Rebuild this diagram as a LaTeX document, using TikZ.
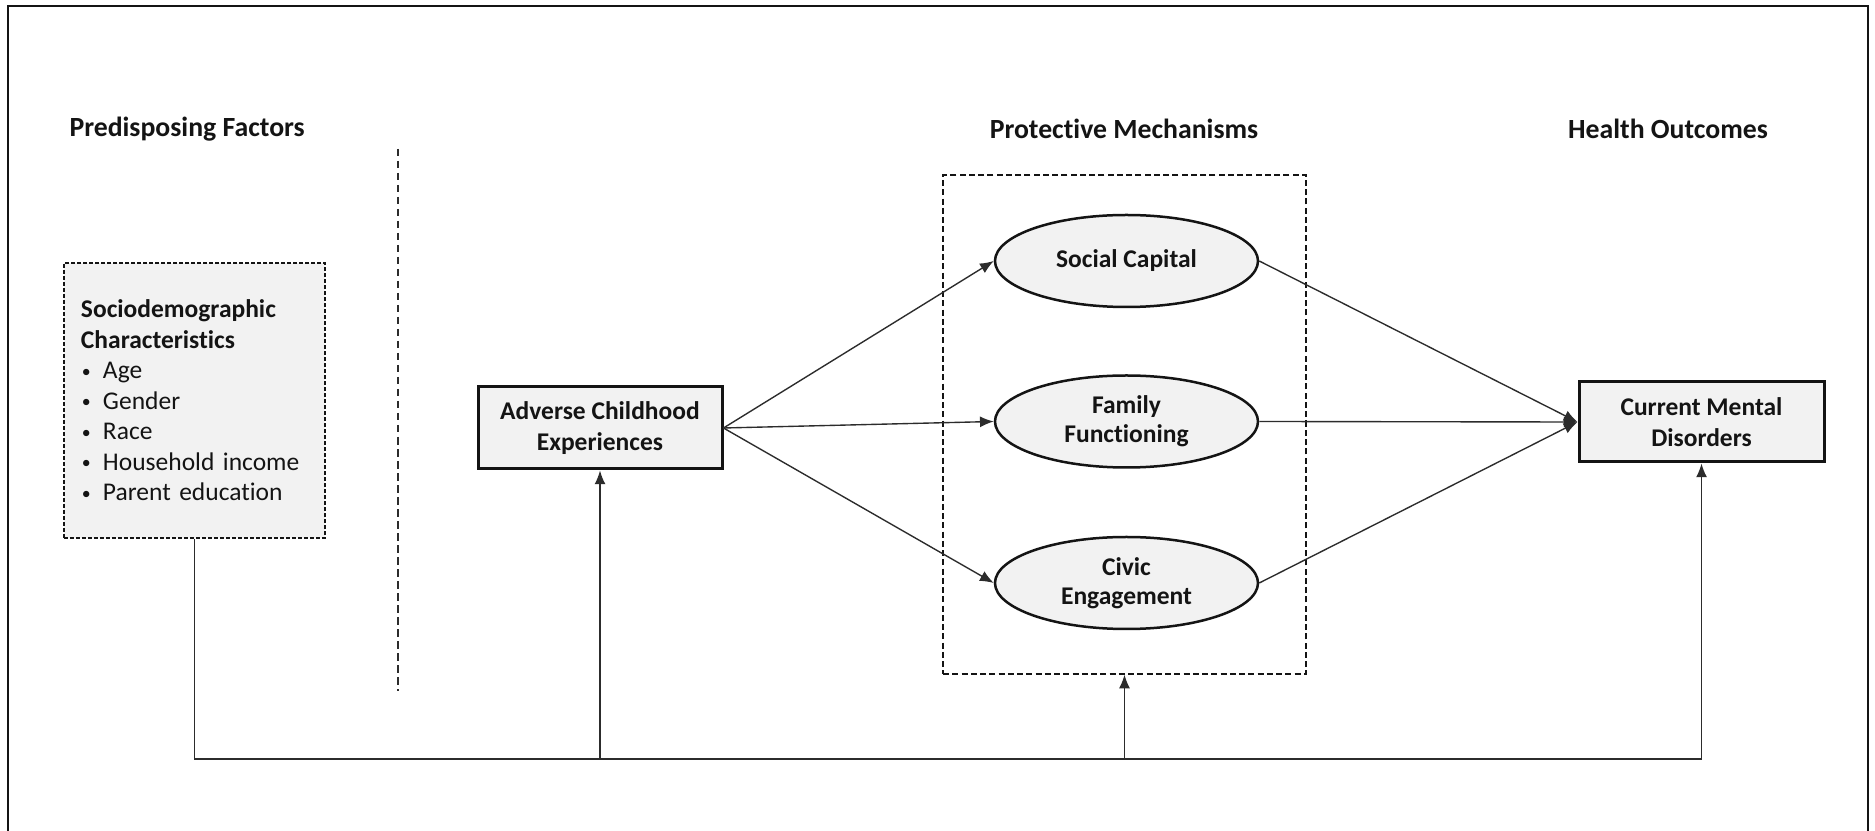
\documentclass[tikz,border=0pt]{standalone}
\usepackage{fontspec}
\setmainfont{Carlito}[RawFeature={-liga}]
\usetikzlibrary{arrows.meta,shapes.geometric}
\definecolor{boxfill}{HTML}{F2F2F2}
\definecolor{ink}{HTML}{141414}
\tikzset{
  title/.style={font=\fontsize{11.1}{13}\selectfont\bfseries, text=ink, inner sep=0pt},
  solidbox/.style={draw=ink, line width=1.2pt, fill=boxfill, inner sep=0pt, align=center,
     font=\fontsize{10.2}{12.2}\selectfont\bfseries, text=ink},
  oval/.style={ellipse, draw=ink, line width=1pt, fill=boxfill, inner sep=0pt, align=center,
     minimum width=105.2pt, minimum height=36.8pt,
     font=\fontsize{10.2}{11.6}\selectfont\bfseries, text=ink},
  conn/.style={draw=ink!90, line width=0.55pt},
  arr/.style={conn, -{Latex[length=5.5pt,width=4.4pt]}},
  groupbox/.style={draw=ink, line width=0.5pt, dash pattern=on 2.4pt off 1.3pt, inner sep=0pt},
  sepline/.style={draw=ink!90, line width=0.5pt, dash pattern=on 3pt off 1.8pt},
}
\newcommand{\bul}{\makebox[8.8pt][l]{\hspace{0.4pt}\raisebox{0.6pt}{\scalebox{0.7}{\textbullet}}}}
\begin{document}
\begin{tikzpicture}[x=0.4pt,y=-0.4pt]
\useasboundingbox (0,0) rectangle (1875,831);
\fill[white] (0,0) rectangle (1875,831);
% outer frame
\draw[ink, line width=1pt] (8,835) -- (8,6) -- (1868,6) -- (1868,835);

% titles
\node[title, anchor=west] (t1) at (69,129) {Predisposing Factors};
\node[title] (t2) at (1124,129) {Protective Mechanisms};
\node[title] (t3) at (1668,129) {Health Outcomes};

% separator
\coordinate (s1) at (398,149);
\coordinate (s2) at (398,691);
\draw[sepline] (s1) -- (s2);

% sociodemographic box
\node[draw=ink, line width=0.5pt, dash pattern=on 1.6pt off 0.8pt, fill=boxfill,
      minimum width=104.4pt, minimum height=110pt, inner sep=0pt,
      text width=90.8pt, align=left, text=ink,
      font=\fontsize{10.2}{12.2}\selectfont] (socio) at (194.5,400.5)
 {\textbf{Sociodemographic}\\
  \textbf{Characteristics}\\
  \bul Age\\
  \bul Gender\\
  \bul Race\\
  \bul Household income\\
  \bul Parent education};

% protective mechanisms group
\node[groupbox, minimum width=145.2pt, minimum height=199.6pt] (pm) at (1124.5,424.5) {};

% main nodes
\node[solidbox, minimum width=97.6pt, minimum height=32.8pt] (ace) at (600,428)
 {Adverse Childhood\\Experiences};
\node[solidbox, minimum width=98pt, minimum height=32pt] (cmd) at (1701.5,422)
 {Current Mental\\Disorders};

\node[oval] (sc) at (1126.5,261) {Social Capital};
\node[oval] (ff) at (1126.5,421.5) {Family\\Functioning};
\node[oval] (ce) at (1126.5,583) {Civic\\Engagement};

% paths
\draw[arr] (ace.east) -- (sc.west);
\draw[arr] (ace.east) -- (ff.west);
\draw[arr] (ace.east) -- (ce.west);
\draw[arr] (sc.east) -- (cmd.west);
\draw[arr] (ff.east) -- (cmd.west);
\draw[arr] (ce.east) -- (cmd.west);

% bottom bus
\coordinate (busL) at (194.5,759);
\coordinate (busR) at (1701.5,759);
\draw[conn] (socio.south) -- (busL) -- (busR);
\draw[arr] (busR) -- (cmd.south);
\draw[arr] (ace.south |- busL) -- (ace.south);
\draw[arr] (pm.south |- busL) -- (pm.south);
\end{tikzpicture}
\end{document}
